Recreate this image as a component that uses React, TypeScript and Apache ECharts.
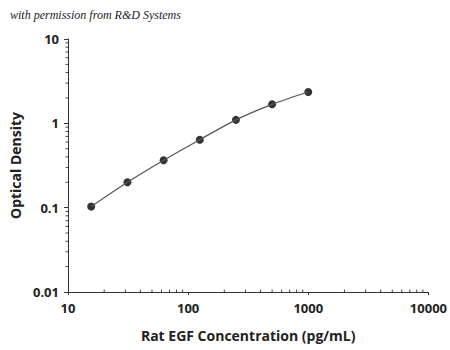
import React, { useEffect, useRef } from "react";
import * as echarts from "echarts";

const concentrations = [15.6, 31.25, 62.5, 125, 250, 500, 1000];
const opticalDensity = [0.103, 0.2, 0.365, 0.64, 1.1, 1.68, 2.35];

const xMinorTicks = [20, 30, 40, 50, 60, 70, 80, 90, 200, 300, 400, 500, 600, 700, 800, 900, 2000, 3000, 4000, 5000, 6000, 7000, 8000, 9000];
const yMinorTicks = [0.02, 0.03, 0.04, 0.05, 0.06, 0.07, 0.08, 0.09, 0.2, 0.3, 0.4, 0.5, 0.6, 0.7, 0.8, 0.9, 2, 3, 4, 5, 6, 7, 8, 9];

const X_MIN = 10;
const X_MAX = 10000;
const Y_MIN = 0.01;
const Y_MAX = 10;

const titleText = "with permission from R&D Systems";
const xName = "Rat EGF Concentration (pg/mL)";
const yName = "Optical Density";

export default function App() {
  const ref = useRef<HTMLDivElement>(null);
  useEffect(() => {
    if (!ref.current) return;
    const chart = echarts.init(ref.current, null, { renderer: "svg" });
    const labelFont = { fontFamily: "Open Sans", fontWeight: "bold" as const, fontSize: 13, color: "#222" };
    chart.setOption({
      animation: false,
      backgroundColor: "#fff",
      graphic: [
        {
          type: "text",
          left: 10,
          top: 9,
          style: {
            text: titleText,
            font: "italic 12px 'Liberation Serif'",
            fill: "#1c1c2c",
          },
        },
      ],
      grid: { left: 67, right: 18, top: 39, bottom: 58 },
      xAxis: {
        type: "log",
        logBase: 10,
        min: X_MIN,
        max: X_MAX,
        name: xName,
        nameLocation: "middle",
        nameGap: 36,
        nameTextStyle: { ...labelFont, fontSize: 14 },
        axisLine: { show: true, lineStyle: { color: "#333", width: 1 } },
        axisTick: { show: true, inside: false, length: 3, lineStyle: { color: "#333" } },
        axisLabel: { ...labelFont, margin: 9, formatter: (v: number) => String(v) },
        splitLine: { show: false },
        minorTick: { show: false },
      },
      yAxis: {
        type: "log",
        logBase: 10,
        min: Y_MIN,
        max: Y_MAX,
        name: yName,
        nameLocation: "middle",
        nameGap: 46,
        nameRotate: 90,
        nameTextStyle: { ...labelFont, fontSize: 14 },
        axisLine: { show: true, lineStyle: { color: "#333", width: 1 } },
        axisTick: { show: true, inside: false, length: 4, lineStyle: { color: "#333" } },
        axisLabel: {
          ...labelFont,
          margin: 9,
          formatter: (v: number) => String(v),
        },
        splitLine: { show: false },
      },
      series: [
        {
          type: "custom",
          silent: true,
          clip: false,
          data: xMinorTicks.map((v) => [v, Y_MIN]),
          renderItem: (params: any, api: any) => {
            const p = api.coord([api.value(0), api.value(1)]);
            return {
              type: "line",
              shape: { x1: p[0], y1: p[1], x2: p[0], y2: p[1] - 2.5 },
              style: { stroke: "#444", lineWidth: 1 },
            };
          },
        },
        {
          type: "custom",
          silent: true,
          clip: false,
          data: yMinorTicks.map((v) => [X_MIN, v]),
          renderItem: (params: any, api: any) => {
            const p = api.coord([api.value(0), api.value(1)]);
            return {
              type: "line",
              shape: { x1: p[0], y1: p[1], x2: p[0] - 2.5, y2: p[1] },
              style: { stroke: "#444", lineWidth: 1 },
            };
          },
        },
        {
          type: "line",
          data: concentrations.map((c, i) => [c, opticalDensity[i]]),
          smooth: 0.3,
          symbol: "none",
          lineStyle: { color: "#555", width: 1.2 },
          silent: true,
        },
        {
          type: "scatter",
          data: concentrations.map((c, i) => [c, opticalDensity[i]]),
          symbol: "circle",
          symbolSize: 8,
          itemStyle: { color: "#000" },
        },
      ],
    });
    return () => chart.dispose();
  }, []);
  return (
    <div
      ref={ref}
      style={{ position: "absolute", left: 0, top: 0, width: 450, height: 350 }}
    />
  );
}
